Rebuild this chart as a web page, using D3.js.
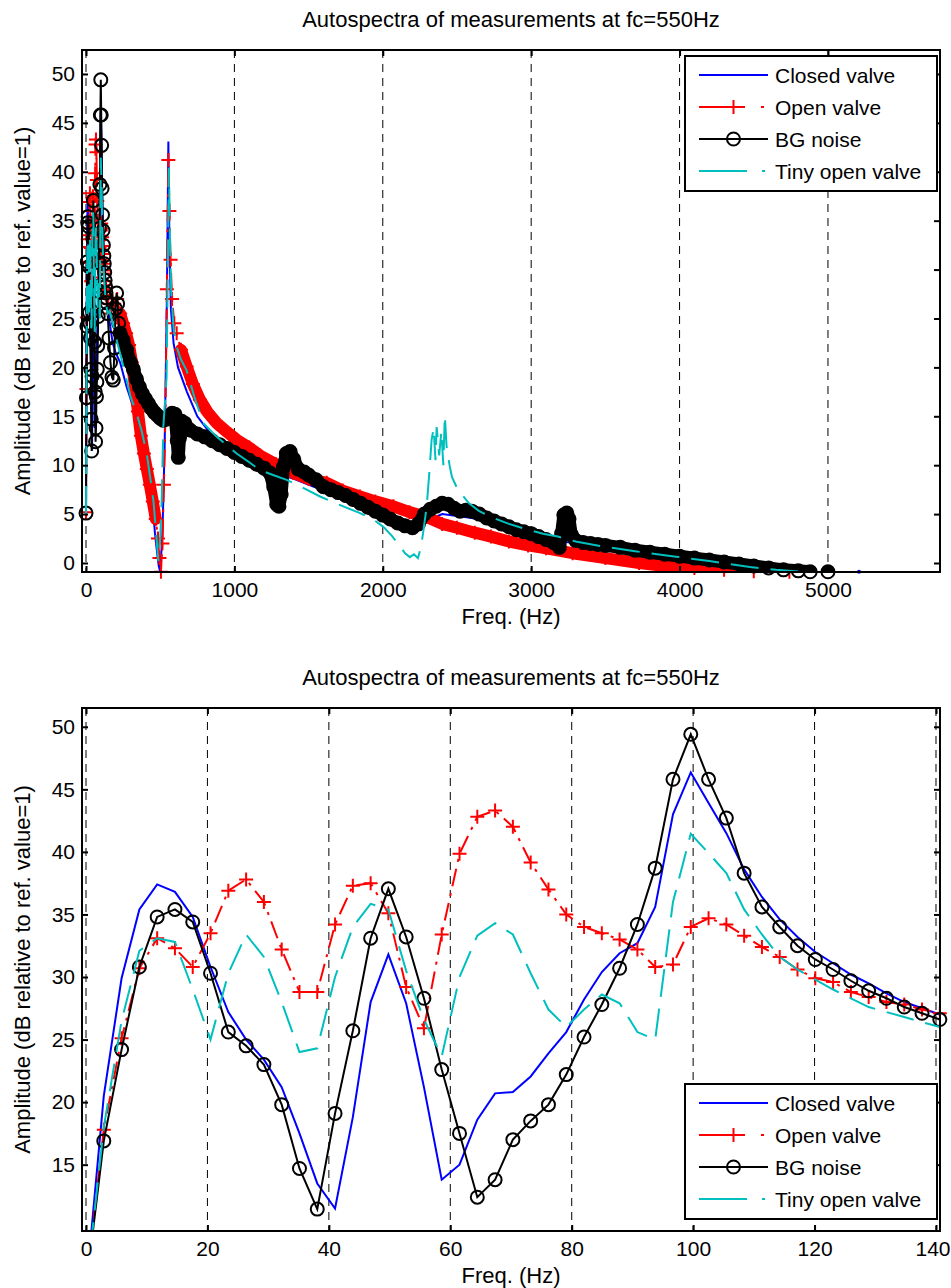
<!DOCTYPE html>
<html>
<head>
<meta charset="utf-8">
<script src="https://cdn.jsdelivr.net/npm/d3@7"></script>
<style>
  body { margin: 0; background: #fff; }
  text { font-family: "Liberation Sans", Arial, Helvetica, sans-serif; fill: #000; }
</style>
</head>
<body>
<svg id="fig" width="951" height="1288"></svg>
<script>
//////////////////////////////////////////////////////////////////////////////
// Data (dB re ref. value = 1)

var seriesNames  = ["Closed valve", "Open valve", "BG noise", "Tiny open valve"];
var seriesColors = ["#0000ff", "#ff0000", "#000000", "#00bfbf"];

var chartTitle = "Autospectra of measurements at fc=550Hz";
var xLabel = "Freq. (Hz)";
var yLabel = "Amplitude (dB relative to ref. value=1)";

var fullXTicks = [0, 1000, 2000, 3000, 4000, 5000];
var fullYTicks = [0, 5, 10, 15, 20, 25, 30, 35, 40, 45, 50];
var zoomXTicks = [0, 20, 40, 60, 80, 100, 120, 140];
var zoomYTicks = [15, 20, 25, 30, 35, 40, 45, 50];

// first FFT bins, 0 .. 140 Hz
var lowFreq = [0, 2.93, 5.86, 8.79, 11.72, 14.65, 17.58, 20.51, 23.44, 26.37,
  29.30, 32.23, 35.16, 38.09, 41.02, 43.95, 46.88, 49.80, 52.73, 55.66,
  58.59, 61.52, 64.45, 67.38, 70.31, 73.24, 76.17, 79.10, 82.03, 84.96,
  87.89, 90.82, 93.75, 96.68, 99.61, 102.54, 105.47, 108.40, 111.33, 114.26,
  117.19, 120.12, 123.05, 125.98, 128.91, 131.84, 134.77, 137.70, 140.63];

var closedLow = [5.0, 20.5, 29.9, 35.4, 37.4, 36.8, 34.8, 30.8, 27.2, 25.0,
  23.4, 21.2, 17.5, 13.5, 11.5, 18.8, 28.0, 31.8, 27.9, 21.2,
  13.8, 15.0, 18.6, 20.7, 20.8, 22.05, 23.9, 25.6, 28.2, 30.4,
  31.9, 32.7, 35.6, 43.0, 46.35, 43.9, 41.5, 38.6, 36.4, 34.6,
  33.2, 32.0, 31.1, 30.2, 29.5, 28.7, 28.0, 27.5, 27.0];

var openLow = [5.2, 17.8, 25.1, 30.7, 33.1, 32.3, 30.8, 33.5, 36.9, 37.8,
  36.0, 32.2, 28.8, 28.8, 34.2, 37.3, 37.5, 35.1, 29.2, 25.9,
  33.4, 39.85, 42.8, 43.3, 42.0, 39.15, 37.0, 35.0, 34.0, 33.5,
  33.0, 32.2, 30.8, 31.0, 34.0, 34.7, 34.2, 33.3, 32.4, 31.6,
  30.6, 29.9, 29.6, 28.8, 28.4, 28.0, 27.8, 27.4, 27.1];

var bgLow = [5.1, 16.9, 24.2, 30.8, 34.8, 35.4, 34.4, 30.3, 25.6, 24.5,
  23.0, 19.8, 14.7, 11.45, 19.1, 25.7, 33.1, 37.05, 33.2, 28.3,
  22.6, 17.5, 12.4, 13.8, 17.0, 18.5, 19.8, 22.2, 25.2, 27.8,
  30.7, 34.2, 38.7, 45.8, 49.4, 45.8, 42.7, 38.3, 35.6, 34.0,
  32.5, 31.4, 30.6, 29.7, 28.9, 28.3, 27.6, 27.1, 26.6];

var tinyLow = [5.0, 18.0, 26.5, 32.1, 33.1, 32.8, 29.0, 25.0, 30.3, 33.4,
  31.6, 28.0, 24.0, 24.3, 30.0, 34.0, 35.85, 35.4, 30.5, 26.6,
  23.65, 30.0, 33.3, 34.3, 33.4, 30.3, 27.4, 26.0, 27.4, 28.6,
  27.9, 25.6, 25.0, 36.0, 41.45, 39.9, 38.3, 35.4, 33.4, 31.6,
  30.6, 29.8, 29.0, 28.3, 27.6, 27.2, 26.8, 26.4, 26.0];

// rest of the spectrum above 140 Hz (null = no value drawn)
var closedTailF = [146, 160, 180, 200, 230, 274, 300, 340, 380, 410,
  431, 455, 465, 478, 490, 500, 515, 530, 545, 555,
  562, 572, 590, 620, 680, 750, 850, 1000, 1200, 1400,
  1600, 1800, 2000, 2200, 2400, 2600, 2800, 3000, 3200, 3400,
  3600, 3800, 4000, 4200, 4400, 4600, 4800, 4880, 5100, 5209];
var closedTailV = [26.5, 24.5, 22.5, 21.5, 20.5, 18.0, 16.8, 14.8, 12.2, 9.5,
  7.4, 4.8, 3.0, 1.2, -0.3, -0.9, 3.0, 12.0, 27.0, 43.1,
  33.0, 26.0, 22.5, 20.0, 17.5, 15.0, 13.0, 11.2, 9.6, 8.6,
  7.4, 6.1, 4.8, 3.7, 5.0, 4.6, 3.8, 2.9, 2.2, 1.9,
  1.5, 1.0, 0.6, 0.2, -0.2, -0.5, -0.8, -0.9, null, -0.9];

var openTailF = [150, 170, 190, 210, 230, 250, 270, 290, 310, 330,
  350, 370, 390, 410, 430, 450, 470, 485, 495, 505,
  515, 525, 535, 545, 555, 562, 570, 580, 595, 611,
  640, 678, 720, 768, 820, 881, 950, 1015, 1100, 1172,
  1280, 1397, 1500, 1622, 1730, 1846, 1950, 2071, 2180, 2296,
  2400, 2500, 2620, 2729, 2850, 2979, 3100, 3279, 3500, 3727,
  3900, 4100, 4300, 4500, 4740];
var openTailV = [26.5, 25.5, 26.5, 27.0, 25.5, 24.5, 23.5, 22.3, 20.5, 18.0,
  15.5, 13.0, 11.2, 9.6, 8.0, 6.3, 4.5, 2.5, 0.5, -0.9,
  2.0, 8.0, 15.0, 28.0, 41.2, 36.0, 31.0, 27.0, 24.5, 23.5,
  21.8, 20.1, 18.3, 16.7, 15.4, 14.3, 13.4, 12.6, 11.8, 11.0,
  10.1, 9.2, 8.6, 8.2, 7.4, 6.8, 6.3, 5.8, 5.2, 4.7,
  4.0, 3.6, 3.1, 2.7, 2.2, 1.8, 1.5, 1.0, 0.5, 0.0,
  -0.3, -0.5, -0.7, -0.85, -0.9];

var bgTailF = [146, 155, 165, 175, 184, 192, 199, 206, 213, 220,
  230, 250, 274, 300, 319, 340, 360, 380, 400, 420,
  440, 460, 480, 500, 520, 540, 560, 580, 600, 615,
  622, 630, 645, 665, 700, 750, 800, 850, 900, 950,
  1000, 1050, 1100, 1150, 1200, 1240, 1265, 1285, 1300, 1315,
  1330, 1350, 1375, 1400, 1430, 1470, 1500, 1550, 1600, 1650,
  1700, 1750, 1800, 1850, 1900, 1950, 2000, 2050, 2100, 2150,
  2200, 2240, 2280, 2320, 2360, 2400, 2440, 2480, 2520, 2560,
  2600, 2650, 2700, 2750, 2800, 2850, 2900, 2950, 3000, 3050,
  3100, 3150, 3190, 3205, 3220, 3240, 3255, 3270, 3300, 3350,
  3400, 3450, 3500, 3600, 3700, 3800, 3900, 4000, 4100, 4200,
  4300, 4400, 4500, 4600, 4700, 4800, 4880, 4950, 5000];
var bgTailV = [25.5, 23.0, 20.5, 19.0, 18.7, 22.0, 26.0, 27.6, 26.5, 24.5,
  23.5, 22.8, 21.8, 20.5, 19.8, 18.8, 18.0, 17.3, 16.8, 16.3,
  15.8, 15.4, 15.1, 14.8, 14.6, 14.7, 15.0, 15.3, 15.2, 12.5,
  10.8, 12.8, 14.5, 14.3, 13.6, 13.2, 12.9, 12.5, 12.1, 11.7,
  11.3, 10.9, 10.5, 10.1, 9.7, 9.2, 7.8, 6.0, 5.8, 7.0,
  9.8, 11.2, 11.4, 10.6, 9.6, 9.3, 9.0, 8.5, 7.8, 7.5,
  7.2, 6.9, 6.5, 6.1, 5.7, 5.3, 4.9, 4.5, 4.1, 3.8,
  3.6, 4.0, 5.0, 5.5, 5.8, 6.1, 6.0, 5.6, 5.3, 5.4,
  5.3, 5.0, 4.6, 4.3, 4.0, 3.7, 3.4, 3.2, 3.0, 2.7,
  2.4, 2.1, 1.6, 3.0, 4.9, 5.1, 4.5, 2.9, 2.3, 2.1,
  2.0, 1.9, 1.8, 1.6, 1.3, 1.1, 0.9, 0.7, 0.5, 0.3,
  0.1, -0.1, -0.3, -0.5, -0.7, -0.8, -0.9, null, -0.9];

var tinyTailF = [146, 160, 180, 200, 220, 240, 260, 280, 300, 320,
  341, 375, 409, 430, 454, 470, 487, 500, 510, 521,
  543, 559, 566, 575, 590, 611, 640, 678, 730, 791,
  881, 1015, 1100, 1172, 1260, 1352, 1460, 1577, 1700, 1846,
  1930, 2004, 2060, 2116, 2150, 2183, 2210, 2237, 2255, 2271,
  2296, 2315, 2329, 2343, 2355, 2363, 2380, 2395, 2408, 2418,
  2430, 2450, 2466, 2505, 2581, 2650, 2729, 2850, 2979, 3080,
  3179, 3300, 3477, 3700, 3976, 4200, 4474, 4650, 4825];
var tinyTailV = [25.5, 25.8, 24.5, 23.2, 22.0, 20.8, 19.5, 18.3, 17.0, 16.2,
  15.3, 13.5, 11.2, 9.0, 6.4, 3.5, 0.2, 2.5, 6.4, 13.9,
  19.0, 40.4, 33.0, 27.5, 24.0, 22.1, 20.8, 19.7, 17.0, 14.3,
  12.9, 11.2, 10.3, 9.5, 9.0, 8.5, 7.7, 6.8, 6.0, 5.1,
  4.5, 3.7, 2.8, 1.7, 1.0, 0.6, 0.9, 0.5, 1.5, 3.0,
  5.8, 9.5, 12.6, 13.8, 10.5, 13.9, 11.0, 13.5, 10.0, 15.1,
  11.9, 10.0, 8.8, 7.5, 6.1, 5.3, 4.7, 4.0, 3.4, 3.0,
  2.7, 2.2, 1.7, 1.2, 0.65, 0.2, -0.4, -0.7, -0.9];

//////////////////////////////////////////////////////////////////////////////
// Styles and layout

var fontTick = 21, fontLabel = 22;

var styles = [
  { dash: null, legendDash: null, marker: null },
  { dash: "18,7,3,7", legendDash: "46,16,3,30", marker: "plus",
    band: 12, bandRanges: [[230, 480], [620, 5800]] },
  { dash: null, legendDash: null, marker: "circle",
    band: 13, bandRanges: [[230, 5800]] },
  { dash: "28,12", legendDash: "48,15,3,30", marker: null }
];

var panels = [
  { id: "full", l: 82, r: 940, t: 50, b: 572,
    xDomain: [-27, 5755], yDomain: [-0.92, 52.45],
    xTicks: fullXTicks, yTicks: fullYTicks, legendTop: 56, withTail: true },
  { id: "zoom", l: 82, r: 940, t: 708, b: 1231,
    xDomain: [-0.66, 140.66], yDomain: [9.7, 51.5],
    xTicks: zoomXTicks, yTicks: zoomYTicks, legendTop: 1084, withTail: false }
];

function toPoints(fs, vs) {
  return fs.map(function(f, i) { return { f: f, v: vs[i] }; });
}

var lowPoints  = [toPoints(lowFreq, closedLow), toPoints(lowFreq, openLow),
                  toPoints(lowFreq, bgLow), toPoints(lowFreq, tinyLow)];
var tailPoints = [toPoints(closedTailF, closedTailV), toPoints(openTailF, openTailV),
                  toPoints(bgTailF, bgTailV), toPoints(tinyTailF, tinyTailV)];

var svg = d3.select("#fig");

function drawMarker(sel, type, color) {
  if (type === "circle") {
    sel.append("circle").attr("r", 6.5)
      .attr("fill", "none").attr("stroke", color).attr("stroke-width", 2);
  } else if (type === "plus") {
    sel.append("path").attr("d", "M-7,0H7M0,-7V7")
      .attr("fill", "none").attr("stroke", color).attr("stroke-width", 2);
  }
}

function drawPanel(p) {
  var x = d3.scaleLinear().domain(p.xDomain).range([p.l, p.r]);
  var y = d3.scaleLinear().domain(p.yDomain).range([p.b, p.t]);
  var g = svg.append("g");
  var clipId = "clip-" + p.id;

  svg.append("clipPath").attr("id", clipId)
    .append("rect").attr("x", p.l).attr("y", p.t)
    .attr("width", p.r - p.l).attr("height", p.b - p.t);

  // dashed x grid, under the data
  g.append("g").selectAll("line").data(p.xTicks).enter().append("line")
    .attr("x1", function(d) { return x(d); })
    .attr("x2", function(d) { return x(d); })
    .attr("y1", p.t).attr("y2", p.b)
    .attr("stroke", "#000").attr("stroke-width", 1)
    .attr("stroke-dasharray", "8,6");

  var line = d3.line()
    .defined(function(d) { return d.v !== null; })
    .x(function(d) { return x(d.f); })
    .y(function(d) { return y(d.v); });

  var inside = function(d) {
    return d.v !== null && d.f >= p.xDomain[0] && d.f <= p.xDomain[1] &&
      d.v >= p.yDomain[0] && d.v <= p.yDomain[1];
  };

  seriesNames.forEach(function(name, i) {
    var st = styles[i], color = seriesColors[i];
    var pts = p.withTail ? lowPoints[i].concat(tailPoints[i]) : lowPoints[i];
    var sg = g.append("g");

    // dense marker trail of the full spectrum
    if (p.withTail && st.band) {
      st.bandRanges.forEach(function(rg) {
        var seg = pts.filter(function(d) { return d.f >= rg[0] && d.f <= rg[1]; });
        sg.append("path").datum(seg)
          .attr("clip-path", "url(#" + clipId + ")")
          .attr("d", line)
          .attr("fill", "none").attr("stroke", color)
          .attr("stroke-width", st.band)
          .attr("stroke-linejoin", "round").attr("stroke-linecap", "round");
      });
    }

    sg.append("path").datum(pts)
      .attr("clip-path", "url(#" + clipId + ")")
      .attr("d", line)
      .attr("fill", "none").attr("stroke", color).attr("stroke-width", 2)
      .attr("stroke-dasharray", st.dash);

    // lone samples (no neighbours) show as a dot
    if (!st.marker) {
      var lone = pts.filter(function(d, k) {
        return d.v !== null && (k === 0 || pts[k - 1].v === null) &&
          (k === pts.length - 1 || pts[k + 1].v === null);
      }).filter(inside);
      sg.selectAll("circle.lone").data(lone).enter().append("circle")
        .attr("cx", function(d) { return x(d.f); })
        .attr("cy", function(d) { return y(d.v); })
        .attr("r", 2).attr("fill", color);
    }

    if (st.marker) {
      sg.selectAll("g.mk").data(pts.filter(inside)).enter().append("g")
        .attr("transform", function(d) { return "translate(" + x(d.f) + "," + y(d.v) + ")"; })
        .call(drawMarker, st.marker, color);
    }
  });

  // axes, ticks inside on all four sides
  var fmt = d3.format("d");
  var ax = [
    { a: d3.axisBottom(x).tickValues(p.xTicks).tickFormat(fmt), tr: "translate(0," + p.b + ")" },
    { a: d3.axisTop(x).tickValues(p.xTicks).tickFormat(""), tr: "translate(0," + p.t + ")" },
    { a: d3.axisLeft(y).tickValues(p.yTicks).tickFormat(fmt), tr: "translate(" + p.l + ",0)" },
    { a: d3.axisRight(y).tickValues(p.yTicks).tickFormat(""), tr: "translate(" + p.r + ",0)" }
  ];
  ax.forEach(function(o, k) {
    var pad = k === 0 ? 10 : 7;
    var ag = g.append("g").attr("transform", o.tr)
      .call(o.a.tickSize(-6).tickPadding(pad));
    ag.select(".domain").remove();
    ag.selectAll(".tick line").attr("stroke", "#000").attr("stroke-width", 2);
    ag.selectAll(".tick text").attr("font-size", fontTick)
      .attr("font-family", "Liberation Sans, Arial, sans-serif").attr("fill", "#000");
    // the last x label sits against the figure edge
    if (k === 0) {
      ag.selectAll(".tick text").filter(function(d) { return x(d) + 18 > 951; })
        .attr("text-anchor", "end").attr("x", 950 - x(p.xTicks[p.xTicks.length - 1]) + 0);
    }
  });

  g.append("rect").attr("x", p.l).attr("y", p.t)
    .attr("width", p.r - p.l).attr("height", p.b - p.t)
    .attr("fill", "none").attr("stroke", "#000").attr("stroke-width", 2);

  // legend
  var lg = g.append("g").attr("transform", "translate(685," + p.legendTop + ")");
  lg.append("rect").attr("width", 252).attr("height", 135)
    .attr("fill", "#fff").attr("stroke", "#000").attr("stroke-width", 2);
  seriesNames.forEach(function(name, i) {
    var cy = 19 + i * 32, st = styles[i];
    lg.append("line").attr("x1", 14).attr("x2", 83).attr("y1", cy).attr("y2", cy)
      .attr("stroke", seriesColors[i]).attr("stroke-width", 2)
      .attr("stroke-dasharray", st.legendDash);
    if (st.marker) {
      lg.append("g").attr("transform", "translate(48.5," + cy + ")")
        .call(drawMarker, st.marker, seriesColors[i]);
    }
    lg.append("text").attr("x", 90).attr("y", cy + 7.5)
      .attr("font-size", fontTick).text(name);
  });

  // title and axis labels
  var cx = (p.l + p.r) / 2;
  g.append("text").attr("x", cx).attr("y", p.t - 23)
    .attr("text-anchor", "middle").attr("font-size", fontLabel).text(chartTitle);
  g.append("text").attr("x", cx).attr("y", p.b + 52)
    .attr("text-anchor", "middle").attr("font-size", fontLabel).text(xLabel);
  g.append("text")
    .attr("transform", "translate(30," + ((p.t + p.b) / 2) + ") rotate(-90)")
    .attr("text-anchor", "middle").attr("font-size", fontLabel).text(yLabel);
}

panels.forEach(drawPanel);
</script>
</body>
</html>
